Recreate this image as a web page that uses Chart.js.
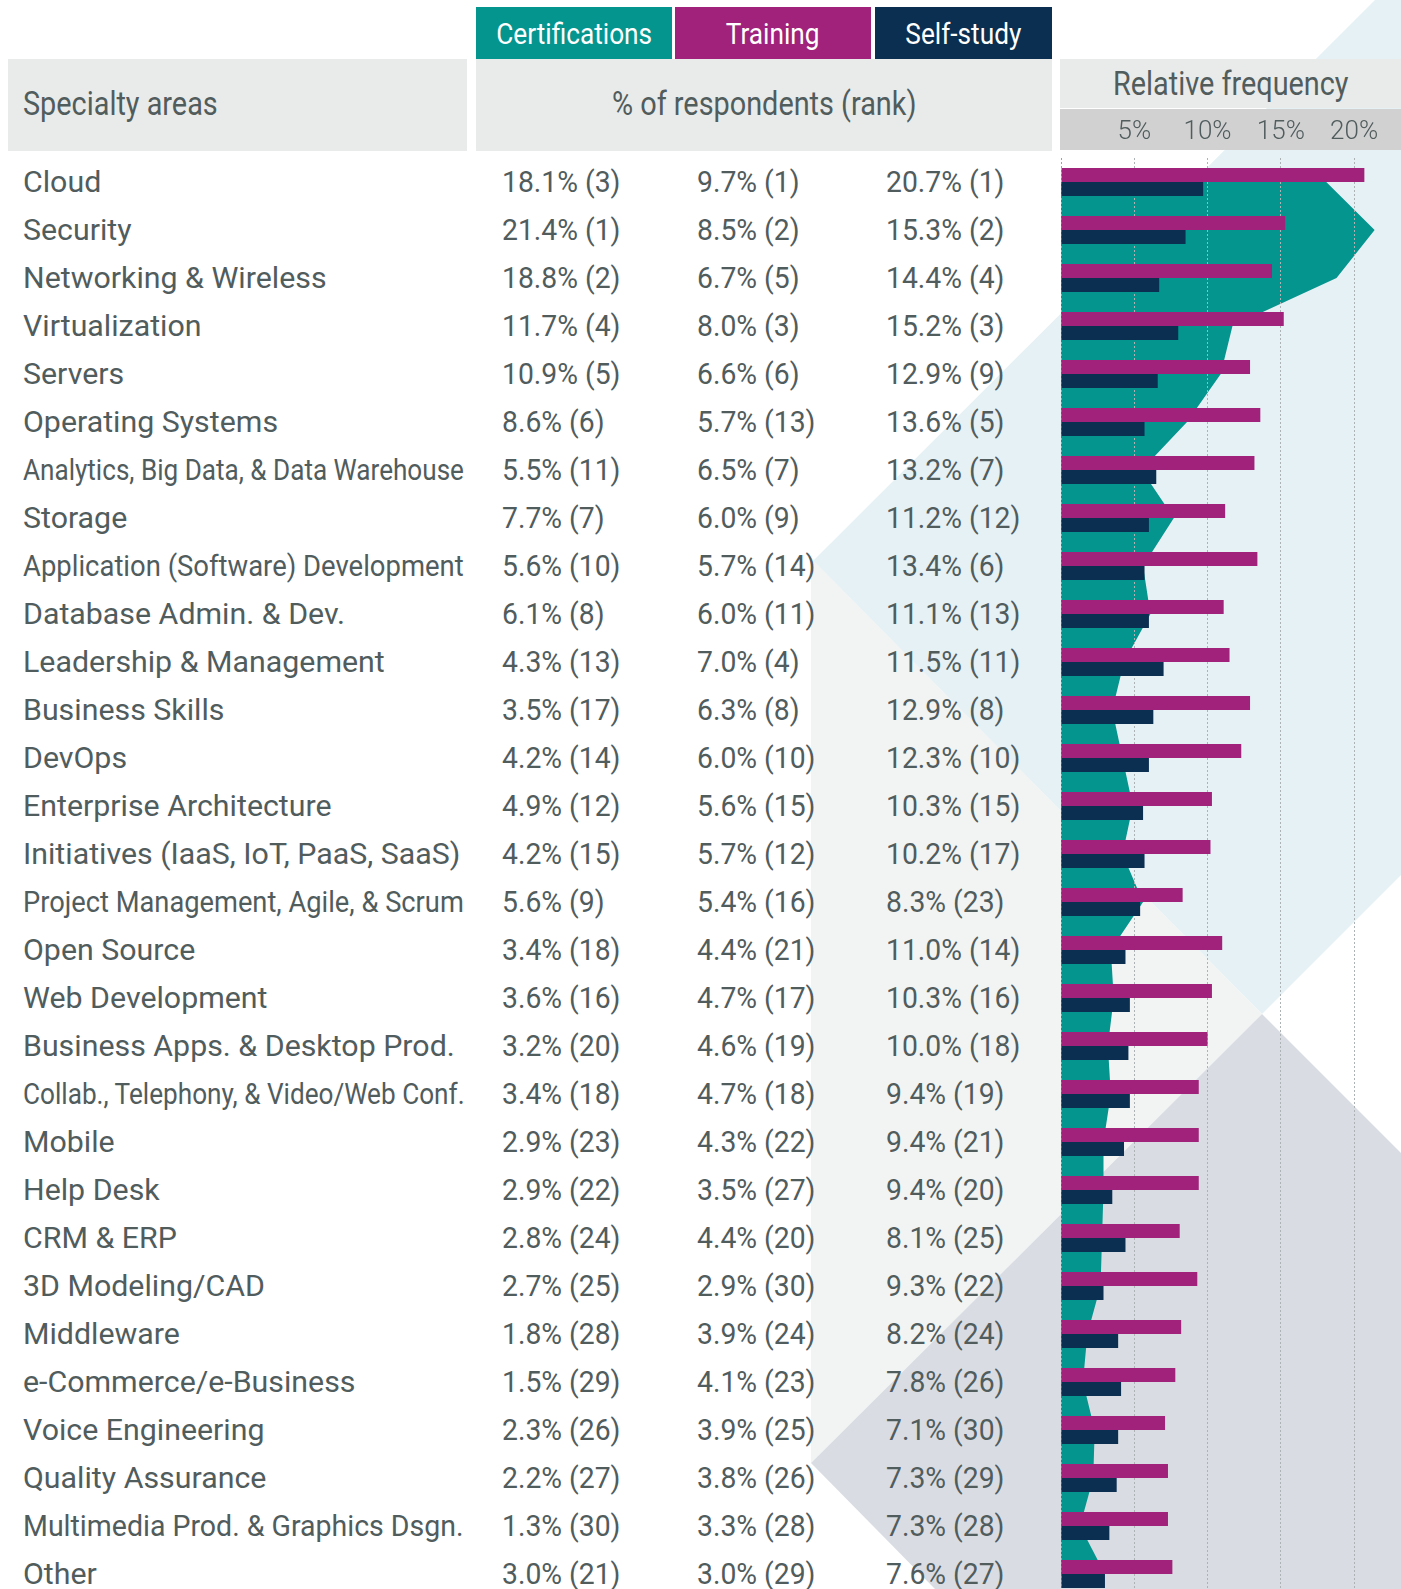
<!DOCTYPE html>
<html>
<head>
<meta charset="utf-8">
<title>Specialty areas - % of respondents</title>
<script src="https://cdn.jsdelivr.net/npm/chart.js@4.4.1/dist/chart.umd.min.js"></script>
<style>
    html, body { margin: 0; padding: 0; }
    body {
        position: relative;
        width: 1401px;
        height: 1589px;
        overflow: hidden;
        background: #ffffff;
        font-family: "Roboto", sans-serif;
        font-weight: 400;
        color: #515c5d;
    }
    /* decorative background triangles */
    .shape { position: absolute; left: 0; top: 0; width: 1401px; height: 1589px; }
    #shape-blue  { background: #e6f1f5; clip-path: polygon(1375px 0, 1401px 0, 1401px 875px, 1262px 1014px, 813px 561px); }
    #shape-light { background: #f2f4f4; clip-path: polygon(811px 558px, 1262px 1014px, 811px 1463px); }
    #shape-gray  { background: #d9dde3; clip-path: polygon(1262px 1014px, 1401px 1153px, 1401px 1589px, 935px 1589px, 811px 1463px); }

    .box {
        position: absolute;
        display: flex;
        align-items: center;
        justify-content: center;
        font-size: 30px;
        white-space: nowrap;
    }
    .box span { display: inline-block; transform: scaleX(var(--sxh, 1)); }
    .box.big { font-size: 33px; }
    .box.big span { position: relative; top: -2px; }
    .box.big.short span { top: 0; }
    .box.left { justify-content: flex-start; }
    .box.left span { transform-origin: left center; }

    .cell {
        position: absolute;
        height: 36px;
        line-height: 36px;
        font-size: 30px;
        white-space: nowrap;
        transform-origin: left center;
    }
    .cell.value { transform: scaleX(var(--sxv, 1)); }
    #freq-chart { position: absolute; left: 1050px; top: 109px; }
</style>
</head>
<body>
<div class="shape" id="shape-blue"></div>
<div class="shape" id="shape-light"></div>
<div class="shape" id="shape-gray"></div>

<div class="box" style="left:476px;top:7px;width:196px;height:52px;background:#04958f;color:#fff;"><span>Certifications</span></div>
<div class="box" style="left:675px;top:7px;width:196px;height:52px;background:#a0227b;color:#fff;"><span>Training</span></div>
<div class="box" style="left:875px;top:7px;width:177px;height:52px;background:#0b2f51;color:#fff;"><span>Self-study</span></div>

<div class="box big left" style="left:8px;top:59px;width:444px;height:92px;padding-left:15px;background:#e9ebea;"><span id="specialty-title">Specialty areas</span></div>
<div class="box big" style="left:476px;top:59px;width:576px;height:92px;background:#e9ebea;"><span>% of respondents (rank)</span></div>
<div class="box big short" style="left:1060px;top:59px;width:341px;height:49px;background:#e9ebea;"><span>Relative frequency</span></div>
<div class="box" style="left:1060px;top:109px;width:341px;height:41px;background:#d1d1d1;"></div>

<canvas id="freq-chart" width="351" height="1490"></canvas>
<div id="table"></div>

<script>
// Specialty areas, top to bottom
const categories = [
    'Cloud', 'Security', 'Networking & Wireless', 'Virtualization', 'Servers',
    'Operating Systems', 'Analytics, Big Data, & Data Warehouse', 'Storage',
    'Application (Software) Development', 'Database Admin. & Dev.',
    'Leadership & Management', 'Business Skills', 'DevOps', 'Enterprise Architecture',
    'Initiatives (IaaS, IoT, PaaS, SaaS)', 'Project Management, Agile, & Scrum',
    'Open Source', 'Web Development', 'Business Apps. & Desktop Prod.',
    'Collab., Telephony, & Video/Web Conf.', 'Mobile', 'Help Desk', 'CRM & ERP',
    '3D Modeling/CAD', 'Middleware', 'e-Commerce/e-Business', 'Voice Engineering',
    'Quality Assurance', 'Multimedia Prod. & Graphics Dsgn.', 'Other'
];

// Certifications
const certPct  = [18.1, 21.4, 18.8, 11.7, 10.9, 8.6, 5.5, 7.7, 5.6, 6.1, 4.3, 3.5, 4.2, 4.9, 4.2,
                  5.6, 3.4, 3.6, 3.2, 3.4, 2.9, 2.9, 2.8, 2.7, 1.8, 1.5, 2.3, 2.2, 1.3, 3.0];
const certRank = [3, 1, 2, 4, 5, 6, 11, 7, 10, 8, 13, 17, 14, 12, 15,
                  9, 18, 16, 20, 18, 23, 22, 24, 25, 28, 29, 26, 27, 30, 21];

// Training
const trainingPct  = [9.7, 8.5, 6.7, 8.0, 6.6, 5.7, 6.5, 6.0, 5.7, 6.0, 7.0, 6.3, 6.0, 5.6, 5.7,
                      5.4, 4.4, 4.7, 4.6, 4.7, 4.3, 3.5, 4.4, 2.9, 3.9, 4.1, 3.9, 3.8, 3.3, 3.0];
const trainingRank = [1, 2, 5, 3, 6, 13, 7, 9, 14, 11, 4, 8, 10, 15, 12,
                      16, 21, 17, 19, 18, 22, 27, 20, 30, 24, 23, 25, 26, 28, 29];

// Self-study
const selfStudyPct  = [20.7, 15.3, 14.4, 15.2, 12.9, 13.6, 13.2, 11.2, 13.4, 11.1, 11.5, 12.9, 12.3, 10.3, 10.2,
                       8.3, 11.0, 10.3, 10.0, 9.4, 9.4, 9.4, 8.1, 9.3, 8.2, 7.8, 7.1, 7.3, 7.3, 7.6];
const selfStudyRank = [1, 2, 4, 3, 9, 5, 7, 12, 6, 13, 11, 8, 10, 15, 17,
                       23, 14, 16, 18, 19, 21, 20, 25, 22, 24, 26, 30, 29, 28, 27];

// Relative frequency axis ticks (%)
const frequencyTicks = [5, 10, 15, 20];

const FONT_FAMILY = '"Roboto", sans-serif';
const ROW_CENTER_FIRST = 182;
const ROW_PITCH = 48;
const LABEL_MAX_WIDTH = 441;   // long labels get squeezed into the column

/**
 * Format a percentage with its rank, e.g. "18.1% (3)"
 */
function formatValue(pct, rank) {
    return pct.toFixed(1) + '% (' + rank + ')';
}

function addCell(container, text, x, centerY, extraClass) {
    const cell = document.createElement('div');
    cell.className = extraClass ? 'cell ' + extraClass : 'cell';
    cell.style.left = x + 'px';
    cell.style.top = (centerY - 18) + 'px';
    cell.textContent = text;
    container.appendChild(cell);
    return cell;
}

/**
 * Build the text table on the left
 */
function buildTable() {
    const table = document.getElementById('table');
    const labelCells = [];
    let valueProbe = null;
    categories.forEach((name, i) => {
        const y = ROW_CENTER_FIRST + i * ROW_PITCH;
        labelCells.push(addCell(table, name, 23, y));
        const certCell = addCell(table, formatValue(certPct[i], certRank[i]), 502, y, 'value');
        if (i === 0) valueProbe = certCell;
        addCell(table, formatValue(trainingPct[i], trainingRank[i]), 697, y, 'value');
        addCell(table, formatValue(selfStudyPct[i], selfStudyRank[i]), 886, y, 'value');
    });

    // narrow the font to the condensed look of the original
    const leadership = labelCells[categories.indexOf('Leadership & Management')];
    const sxLabel = 362 / leadership.offsetWidth;
    labelCells.forEach(cell => {
        const sx = Math.min(sxLabel, LABEL_MAX_WIDTH / cell.offsetWidth);
        cell.style.transform = 'scaleX(' + sx.toFixed(3) + ')';
    });
    const sxValue = 118 / valueProbe.offsetWidth;
    const sxHeader = 195 / document.getElementById('specialty-title').offsetWidth;
    document.body.style.setProperty('--sxv', sxValue.toFixed(3));
    document.body.style.setProperty('--sxh', sxHeader.toFixed(3));
}

// Draw the grid again right after the certifications area, so it shows on top of it
const gridOverArea = {
    id: 'gridOverArea',
    afterDatasetDraw(chart, args) {
        if (chart.data.datasets[args.index].type === 'line') {
            chart.scales.x.drawGrid(chart.chartArea);
        }
    }
};

function buildChart() {
    const canvas = document.getElementById('freq-chart');
    new Chart(canvas, {
        type: 'bar',
        data: {
            labels: categories,
            datasets: [
                {
                    type: 'bar',
                    label: 'Self-study',
                    data: selfStudyPct,
                    indexAxis: 'y',
                    backgroundColor: '#a0227b',
                    categoryPercentage: 0.583,
                    barPercentage: 1.0,
                    order: 1
                },
                {
                    type: 'bar',
                    label: 'Training',
                    data: trainingPct,
                    indexAxis: 'y',
                    backgroundColor: '#0b2f51',
                    categoryPercentage: 0.583,
                    barPercentage: 1.0,
                    order: 1
                },
                {
                    type: 'line',
                    label: 'Certifications',
                    data: certPct,
                    indexAxis: 'y',
                    backgroundColor: '#04958f',
                    borderWidth: 0,
                    pointRadius: 0,
                    tension: 0,
                    fill: 'origin',
                    order: 2
                }
            ]
        },
        options: {
            indexAxis: 'y',
            responsive: false,
            animation: false,
            layout: { padding: { left: 11, right: 0, top: 0, bottom: 1 } },
            plugins: {
                legend: { display: false },
                tooltip: { enabled: false }
            },
            scales: {
                x: {
                    type: 'linear',
                    position: 'top',
                    min: 0,
                    max: 23.2,
                    afterBuildTicks: scale => {
                        scale.ticks = [0].concat(frequencyTicks).map(v => ({ value: v }));
                    },
                    afterFit: scale => { scale.height = 49; },
                    grid: {
                        color: ctx => (ctx.tick && ctx.tick.value === 0) ? '#9aa2a4' : '#adb2b4',
                        lineWidth: 1,
                        drawTicks: false
                    },
                    border: { display: false, dash: [2, 2] },
                    ticks: {
                        padding: 10,
                        color: '#515c5d',
                        font: { family: FONT_FAMILY, size: 26, weight: 300 },
                        callback: value => value === 0 ? '' : value + '%'
                    }
                },
                y: {
                    type: 'category',
                    display: false,
                    offset: true,
                    grid: { display: false }
                }
            }
        },
        plugins: [gridOverArea]
    });
}

buildTable();
buildChart();
</script>
</body>
</html>
